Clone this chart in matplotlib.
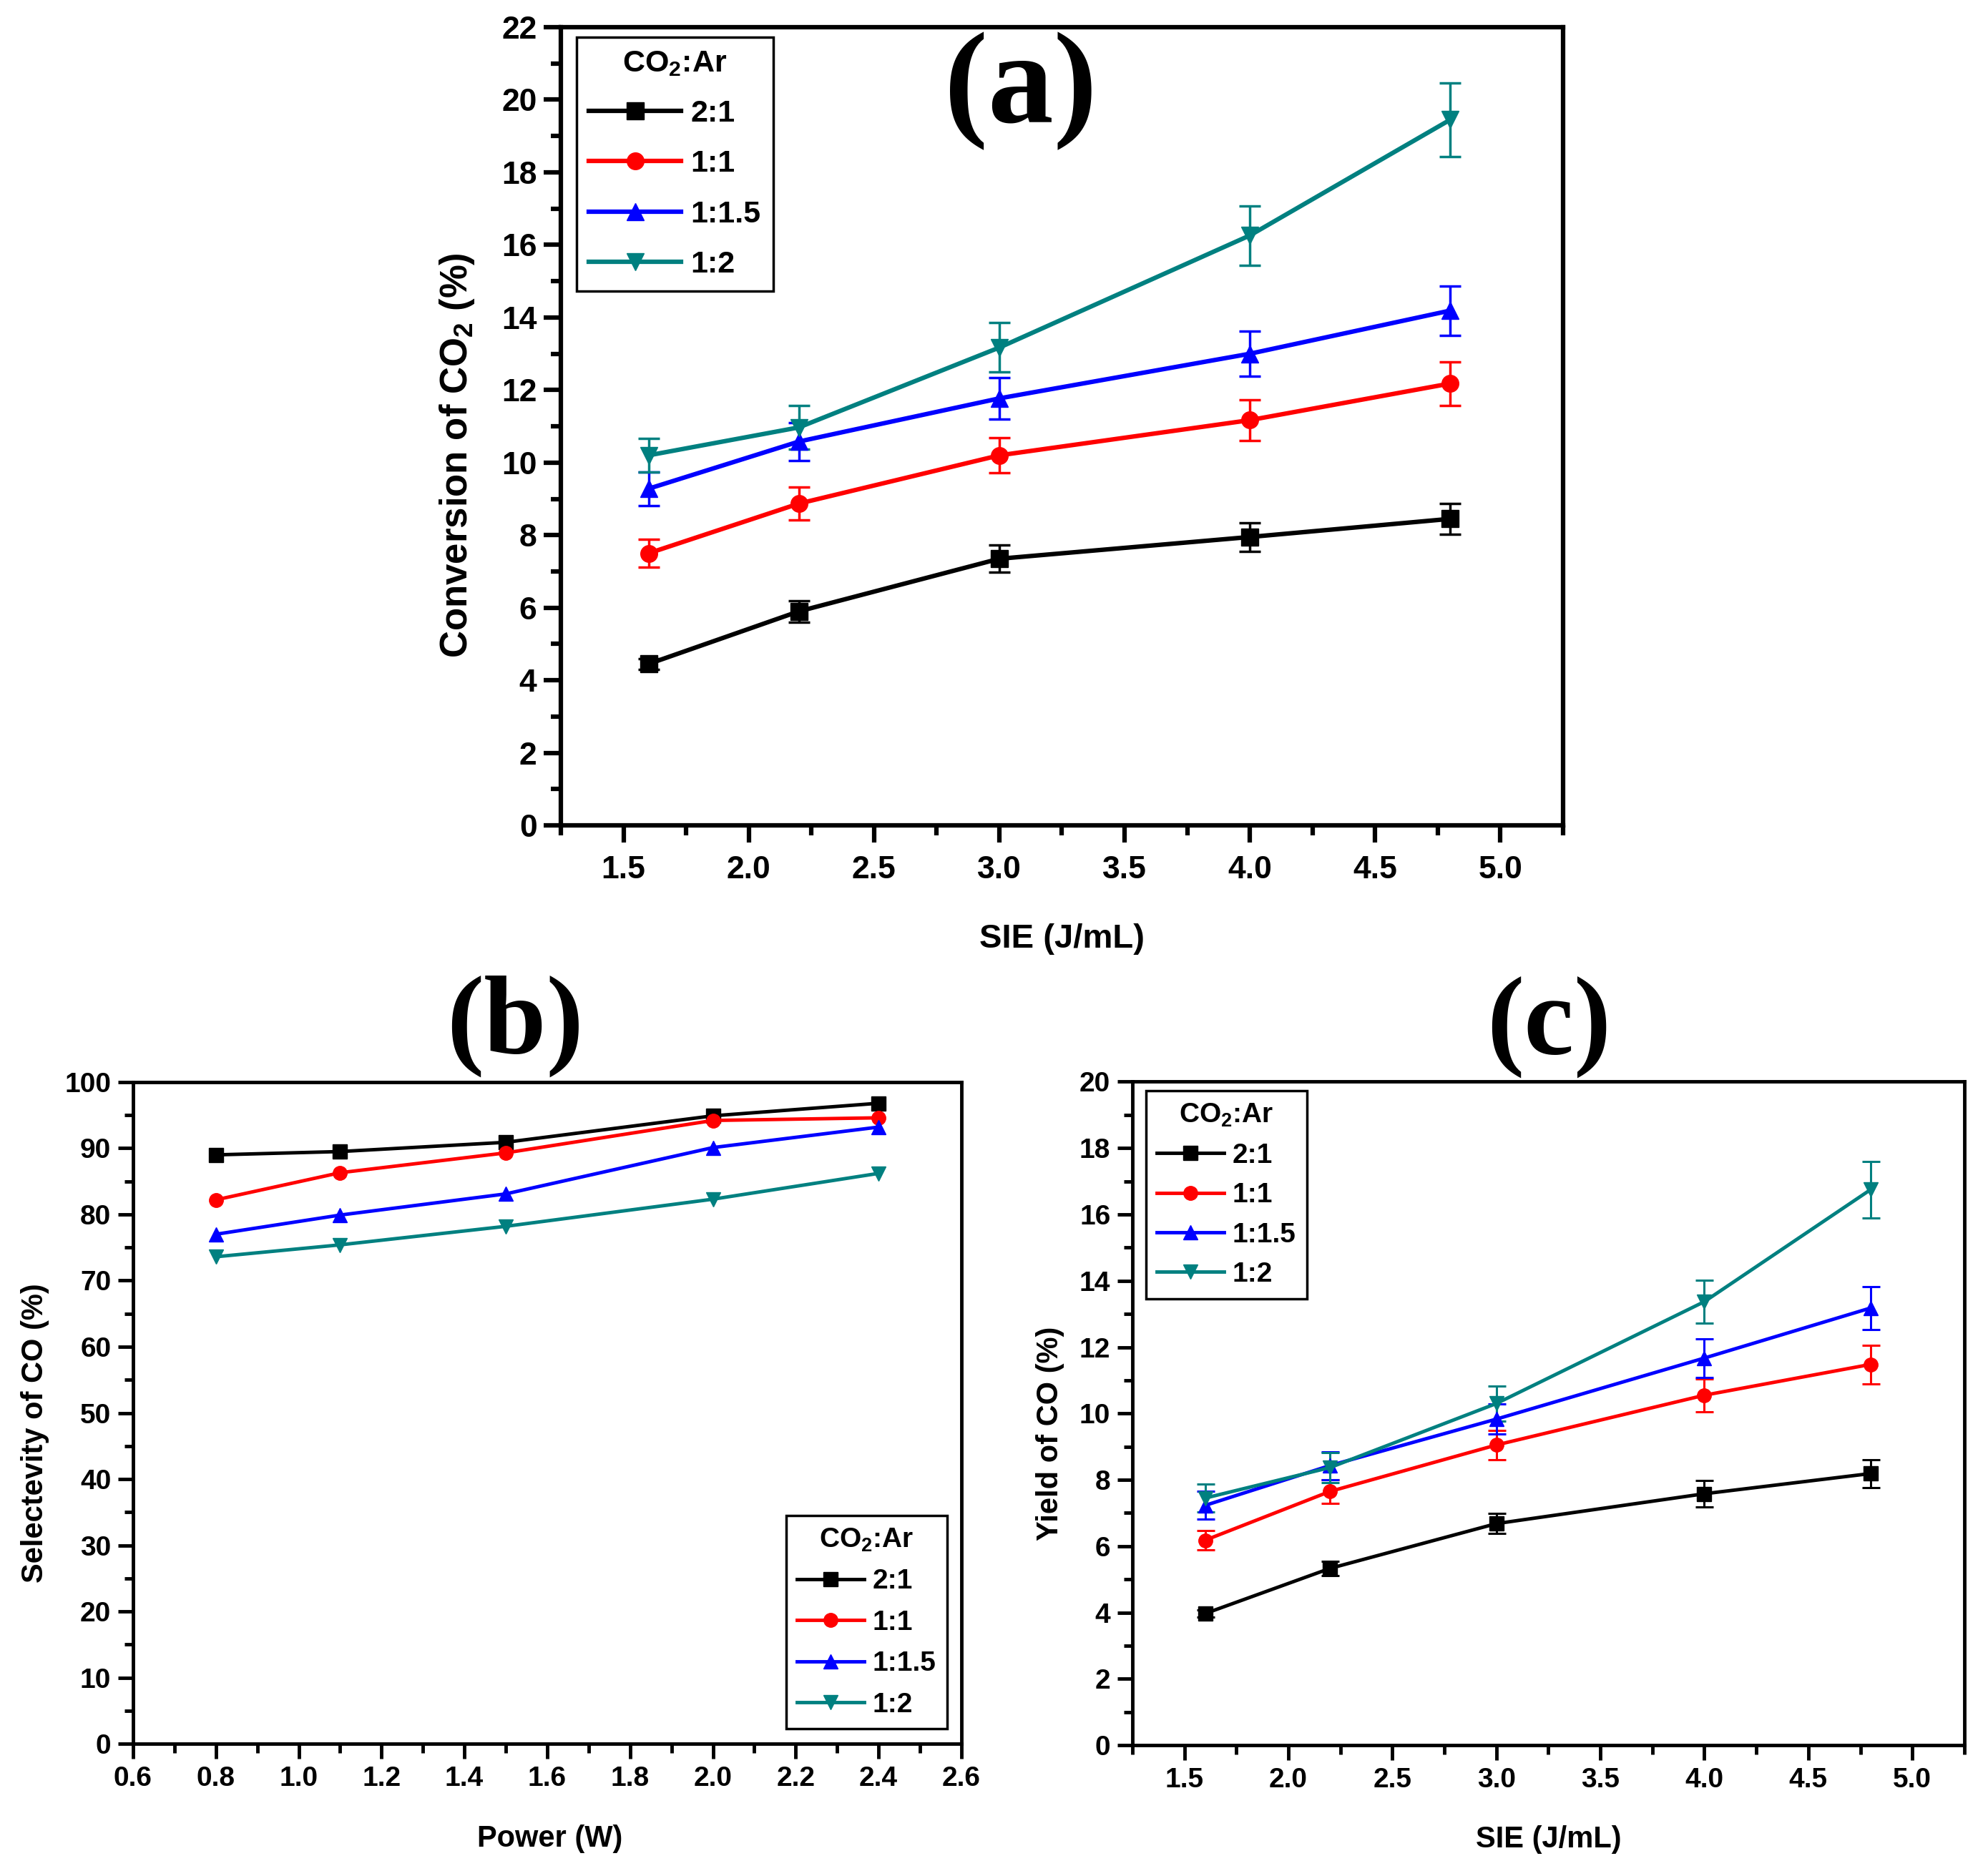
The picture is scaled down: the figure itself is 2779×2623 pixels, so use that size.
import matplotlib
matplotlib.use("Agg")
import matplotlib.pyplot as plt
from matplotlib.ticker import MultipleLocator

plt.rcParams["font.family"] = "Liberation Sans"
plt.rcParams["font.weight"] = "bold"
plt.rcParams["mathtext.fontset"] = "custom"
plt.rcParams["mathtext.rm"] = "Liberation Sans:bold"
plt.rcParams["mathtext.bf"] = "Liberation Sans:bold"
plt.rcParams["mathtext.default"] = "bf"

# series info
ratios = ["2:1", "1:1", "1:1.5", "1:2"]
colors = ["black", "red", "blue", "#008080"]
markers = ["s", "o", "^", "v"]

sie = [1.6, 2.2, 3.0, 4.0, 4.8]
power = [0.8, 1.1, 1.5, 2.0, 2.4]

# (a) conversion of CO2 (%) and error bars
conv_21 = [4.45, 5.9, 7.35, 7.95, 8.45]
conv_11 = [7.5, 8.87, 10.2, 11.17, 12.18]
conv_115 = [9.28, 10.58, 11.77, 13.0, 14.19]
conv_12 = [10.2, 10.97, 13.17, 16.26, 19.45]
conv_err_21 = [0.15, 0.3, 0.37, 0.4, 0.42]
conv_err_11 = [0.38, 0.45, 0.48, 0.57, 0.6]
conv_err_115 = [0.46, 0.52, 0.57, 0.62, 0.68]
conv_err_12 = [0.46, 0.6, 0.68, 0.82, 1.02]

# (b) selectivity of CO (%)
sel_21 = [89.0, 89.5, 90.9, 94.9, 96.8]
sel_11 = [82.2, 86.3, 89.3, 94.2, 94.6]
sel_115 = [77.0, 79.9, 83.1, 90.1, 93.2]
sel_12 = [73.6, 75.4, 78.2, 82.3, 86.2]

# (c) yield of CO (%) and error bars
yld_21 = [3.97, 5.33, 6.68, 7.58, 8.19]
yld_11 = [6.18, 7.65, 9.05, 10.55, 11.48]
yld_115 = [7.23, 8.43, 9.83, 11.67, 13.18]
yld_12 = [7.45, 8.37, 10.3, 13.37, 16.75]
yld_err_21 = [0.1, 0.22, 0.3, 0.4, 0.42]
yld_err_11 = [0.3, 0.35, 0.44, 0.5, 0.58]
yld_err_115 = [0.42, 0.42, 0.45, 0.58, 0.65]
yld_err_12 = [0.42, 0.45, 0.52, 0.65, 0.85]

conv = [conv_21, conv_11, conv_115, conv_12]
conv_err = [conv_err_21, conv_err_11, conv_err_115, conv_err_12]
sel = [sel_21, sel_11, sel_115, sel_12]
yld = [yld_21, yld_11, yld_115, yld_12]
yld_err = [yld_err_21, yld_err_11, yld_err_115, yld_err_12]

fig = plt.figure(figsize=(27.79, 26.23), dpi=100)

ax_a = fig.add_axes([0.2821, 0.5600, 0.5041, 0.4255])
ax_b = fig.add_axes([0.0669, 0.0705, 0.4167, 0.3527])
ax_c = fig.add_axes([0.5696, 0.0697, 0.4185, 0.3537])


def style_axes(ax, spine_w, tick_fs, major_len, minor_len):
    for s in ax.spines.values():
        s.set_linewidth(spine_w)
    ax.tick_params(which="both", direction="out", top=False, right=False,
                   width=spine_w)
    ax.tick_params(which="major", length=major_len, labelsize=tick_fs, pad=7)
    ax.tick_params(which="minor", length=minor_len)


def add_legend(ax, handles, fs, anchor, loc, hlen, lspace):
    leg = ax.legend(handles, ratios, loc=loc, bbox_to_anchor=anchor,
                    borderaxespad=0, title="CO$_2$:Ar", fontsize=fs,
                    title_fontsize=fs, handlelength=hlen, handletextpad=0.3,
                    fancybox=False, edgecolor="black", framealpha=1,
                    borderpad=0.4, labelspacing=lspace)
    leg.get_frame().set_linewidth(2.5)


# ---- (a)
lines_a = []
for i in range(4):
    eb = ax_a.errorbar(sie, conv[i], yerr=conv_err[i], color=colors[i],
                       marker=markers[i], markersize=17, linewidth=4.5,
                       elinewidth=2.5, capsize=11, capthick=2.5)
    lines_a.append(eb[0])
ax_a.set_xlim(1.25, 5.25)
ax_a.set_ylim(0, 22)
ax_a.xaxis.set_major_locator(MultipleLocator(0.5))
ax_a.xaxis.set_minor_locator(MultipleLocator(0.25))
ax_a.yaxis.set_major_locator(MultipleLocator(2))
ax_a.yaxis.set_minor_locator(MultipleLocator(1))
style_axes(ax_a, 4.5, 32, 17, 10)
ax_a.tick_params(axis="x", which="major", pad=13)
ax_a.set_xlabel("SIE (J/mL)", fontsize=34, fontweight="bold")
ax_a.set_ylabel("Conversion of CO$_2$ (%)", fontsize=38, fontweight="bold")
ax_a.xaxis.set_label_coords(0.5, -0.123)
ax_a.yaxis.set_label_coords(-0.084, 0.464)
add_legend(ax_a, lines_a, 31, (0.0157, 0.9875), "upper left", 3.0, 0.7)

# ---- (b)
lines_b = []
for i in range(4):
    ln, = ax_b.plot(power, sel[i], color=colors[i], marker=markers[i],
                    markersize=14, linewidth=3.5)
    lines_b.append(ln)
ax_b.set_xlim(0.6, 2.6)
ax_b.set_ylim(0, 100)
ax_b.xaxis.set_major_locator(MultipleLocator(0.2))
ax_b.xaxis.set_minor_locator(MultipleLocator(0.1))
ax_b.yaxis.set_major_locator(MultipleLocator(10))
ax_b.yaxis.set_minor_locator(MultipleLocator(5))
style_axes(ax_b, 3.5, 28, 15, 9)
ax_b.set_xlabel("Power (W)", fontsize=30, fontweight="bold")
ax_b.set_ylabel("Selectevity of CO (%)", fontsize=30, fontweight="bold")
ax_b.xaxis.set_label_coords(0.503, -0.122)
ax_b.yaxis.set_label_coords(-0.101, 0.47)
add_legend(ax_b, lines_b, 28, (0.9827, 0.0227), "lower right", 2.4, 0.55)

# ---- (c)
lines_c = []
for i in range(4):
    eb = ax_c.errorbar(sie, yld[i], yerr=yld_err[i], color=colors[i],
                       marker=markers[i], markersize=14, linewidth=3.5,
                       elinewidth=2.2, capsize=9, capthick=2.2)
    lines_c.append(eb[0])
ax_c.set_xlim(1.25, 5.25)
ax_c.set_ylim(0, 20)
ax_c.xaxis.set_major_locator(MultipleLocator(0.5))
ax_c.xaxis.set_minor_locator(MultipleLocator(0.25))
ax_c.yaxis.set_major_locator(MultipleLocator(2))
ax_c.yaxis.set_minor_locator(MultipleLocator(1))
style_axes(ax_c, 3.5, 28, 15, 9)
ax_c.set_xlabel("SIE (J/mL)", fontsize=30, fontweight="bold")
ax_c.set_ylabel("Yield of CO (%)", fontsize=30, fontweight="bold")
ax_c.xaxis.set_label_coords(0.5, -0.12)
ax_c.yaxis.set_label_coords(-0.082, 0.47)
add_legend(ax_c, lines_c, 28, (0.0163, 0.986), "upper left", 2.4, 0.5)

# panel letters
fig.text(0.5135, 0.9516, "(a)", fontsize=132, fontweight="bold",
         family="Liberation Serif", ha="center", va="center")
fig.text(0.2591, 0.4529, "(b)", fontsize=113, fontweight="bold",
         family="Liberation Serif", ha="center", va="center")
fig.text(0.7791, 0.4522, "(c)", fontsize=113, fontweight="bold",
         family="Liberation Serif", ha="center", va="center")

fig.savefig("out.png", dpi=100)
